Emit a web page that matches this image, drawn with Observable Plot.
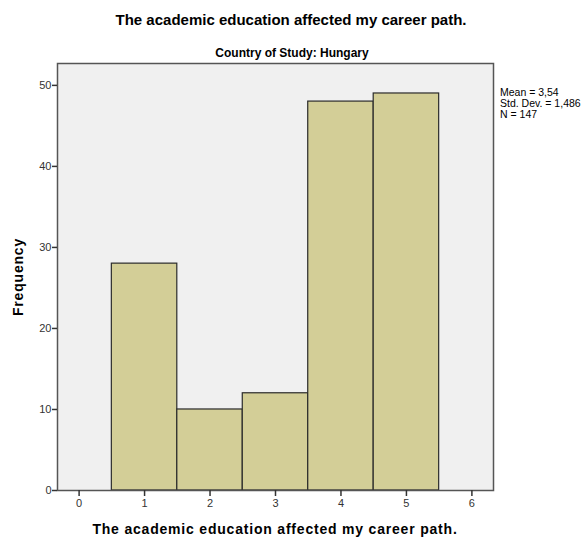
<!DOCTYPE html>
<html><head><meta charset="utf-8">
<script src="https://cdn.jsdelivr.net/npm/d3@7"></script>
<script src="https://cdn.jsdelivr.net/npm/@observablehq/plot@0.6"></script>
<style>body{margin:0;background:#fff;font-family:Arial,"Liberation Sans",sans-serif}</style>
</head><body><div id="chart"></div>
<script>
const categories = [1, 2, 3, 4, 5];
const frequencies = [28, 10, 12, 48, 49];
const xTicks = [0, 1, 2, 3, 4, 5, 6];
const yTicks = [0, 10, 20, 30, 40, 50];
const title = "The academic education affected my career path.";
const subtitle = "Country of Study: Hungary";
const statsLines = ["Mean = 3,54", "Std. Dev. = 1,486", "N = 147"];

const data = categories.map((c, i) => ({x1: c - 0.5, x2: c + 0.5, y: frequencies[i]}));

const plot = Plot.plot({
  width: 588, height: 541,
  marginLeft: 57, marginRight: 95, marginTop: 63, marginBottom: 51,
  style: {fontFamily: "Arial, 'Liberation Sans', sans-serif", fontSize: "11px", color: "#333", background: "#fff"},
  x: {domain: [-0.33, 6.33], label: null},
  y: {domain: [0, 52.7], label: null},
  marks: [
    Plot.frame({fill: "#f0f0f0"}),
    Plot.rectY(data, {x1: "x1", x2: "x2", y: "y", fill: "#d3ce97", stroke: "#2b2b2b", strokeWidth: 1.2}),
    Plot.frame({stroke: "#555", strokeWidth: 1.5}),
    Plot.axisX({ticks: xTicks, tickSize: 6, tickPadding: 3, stroke: "#333", strokeWidth: 1.5, fontSize: 11, fill: "#333", tickFormat: d => String(d), label: null}),
    Plot.axisY({ticks: yTicks, tickSize: 5, tickPadding: 1, stroke: "#333", strokeWidth: 1.5, fontSize: 11, fill: "#333", tickFormat: d => String(d), label: null})
  ]
});
document.getElementById("chart").appendChild(plot);

const svg = d3.select(plot);
svg.append("text").attr("x", 291).attr("y", 25).attr("text-anchor", "middle")
  .attr("font-size", 15).attr("font-weight", "bold").attr("fill", "#000").text(title);
svg.append("text").attr("x", 292).attr("y", 57).attr("text-anchor", "middle")
  .attr("font-size", 12).attr("font-weight", "bold").attr("fill", "#000").text(subtitle);
svg.append("text").attr("transform", "translate(23,277) rotate(-90)").attr("text-anchor", "middle")
  .attr("font-size", 14).attr("font-weight", "bold").attr("fill", "#000").attr("letter-spacing", 0.8).text("Frequency");
svg.append("text").attr("x", 275).attr("y", 534).attr("text-anchor", "middle")
  .attr("font-size", 14).attr("font-weight", "bold").attr("fill", "#000").attr("letter-spacing", 0.8).text(title);
statsLines.forEach((s, i) => {
  svg.append("text").attr("x", 500).attr("y", 96 + i * 11).attr("text-anchor", "start")
    .attr("font-size", 10.5).attr("fill", "#000").text(s);
});
</script></body></html>
